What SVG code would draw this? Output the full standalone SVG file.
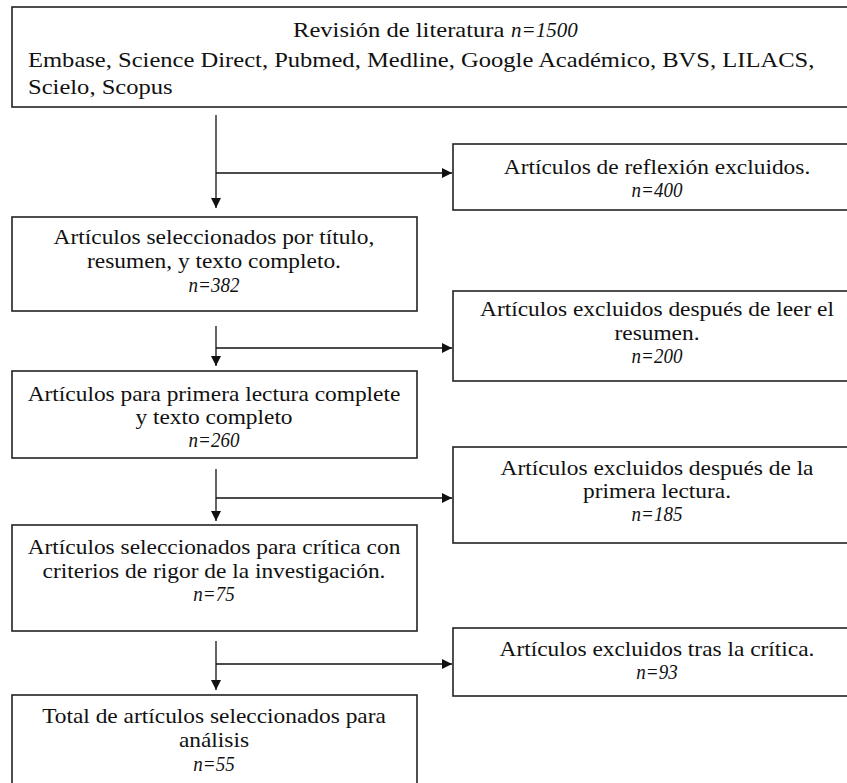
<svg xmlns="http://www.w3.org/2000/svg" width="847" height="783" viewBox="0 0 847 783">
<style>
.box{fill:#fff;stroke:#222;stroke-width:1.6}
.t{font-family:"Liberation Serif","Times New Roman",serif;font-size:20px;fill:#111;text-anchor:middle}
.tl{font-family:"Liberation Serif","Times New Roman",serif;font-size:21px;fill:#111}
.i{font-style:italic}
.c{stroke:#111;stroke-width:1.3;fill:none;marker-end:url(#ah)}
</style>
<defs>
<marker id="ah" viewBox="0 0 10 10" refX="10" refY="5" markerUnits="userSpaceOnUse" markerWidth="11" markerHeight="10" orient="auto">
<path d="M0,0 L10,5 L0,10 z" fill="#111"/>
</marker>
</defs>
<rect width="847" height="783" fill="#fff"/>

<g id="n0">
<rect class="box" x="12" y="7" width="852" height="100"/>
<text class="tl" transform="translate(293,0) scale(1.17,1)" x="0" y="37">Revisión de literatura</text>
<text class="tl i" transform="translate(511,0) scale(1.0,1)" x="0" y="37">n=1500</text>
<text class="tl" transform="translate(28,0) scale(1.17,1)" x="0" y="67">Embase, Science Direct, Pubmed, Medline, Google Académico, BVS, LILACS,</text>
<text class="tl" transform="translate(28,0) scale(1.17,1)" x="0" y="94">Scielo, Scopus</text>
</g>

<g id="connectors">
<path class="c" d="M216,115 V208"/>
<path class="c" d="M216,173 H452"/>
<path class="c" d="M216,326 V366"/>
<path class="c" d="M216,348 H452"/>
<path class="c" d="M216,469 V521"/>
<path class="c" d="M216,498 H452"/>
<path class="c" d="M216,641 V690"/>
<path class="c" d="M216,664 H452"/>
</g>

<g id="r1">
<rect class="box" x="453" y="144" width="410" height="66"/>
<text class="t" transform="translate(657,0) scale(1.17,1)" x="0" y="174">Artículos de reflexión excluidos.</text>
<text class="t i" transform="translate(657,0) scale(0.95,1)" x="0" y="197">n=400</text>
</g>

<g id="n1">
<rect class="box" x="12" y="217" width="405" height="94"/>
<text class="t" transform="translate(214,0) scale(1.17,1)" x="0" y="244">Artículos seleccionados por título,</text>
<text class="t" transform="translate(214,0) scale(1.17,1)" x="0" y="268">resumen, y texto completo.</text>
<text class="t i" transform="translate(214,0) scale(0.95,1)" x="0" y="292">n=382</text>
</g>

<g id="r2">
<rect class="box" x="453" y="291" width="410" height="90"/>
<text class="t" transform="translate(657,0) scale(1.17,1)" x="0" y="316">Artículos excluidos después de leer el</text>
<text class="t" transform="translate(657,0) scale(1.17,1)" x="0" y="340">resumen.</text>
<text class="t i" transform="translate(657,0) scale(0.95,1)" x="0" y="363">n=200</text>
</g>

<g id="n2">
<rect class="box" x="12" y="371" width="405" height="87"/>
<text class="t" transform="translate(214,0) scale(1.17,1)" x="0" y="401">Artículos para primera lectura complete</text>
<text class="t" transform="translate(214,0) scale(1.17,1)" x="0" y="424">y texto completo</text>
<text class="t i" transform="translate(214,0) scale(0.95,1)" x="0" y="447">n=260</text>
</g>

<g id="r3">
<rect class="box" x="453" y="447" width="410" height="96"/>
<text class="t" transform="translate(657,0) scale(1.17,1)" x="0" y="475">Artículos excluidos después de la</text>
<text class="t" transform="translate(657,0) scale(1.17,1)" x="0" y="498">primera lectura.</text>
<text class="t i" transform="translate(657,0) scale(0.95,1)" x="0" y="521">n=185</text>
</g>

<g id="n3">
<rect class="box" x="12" y="525" width="405" height="106"/>
<text class="t" transform="translate(214,0) scale(1.17,1)" x="0" y="554">Artículos seleccionados para crítica con</text>
<text class="t" transform="translate(214,0) scale(1.17,1)" x="0" y="578">criterios de rigor de la investigación.</text>
<text class="t i" transform="translate(214,0) scale(0.95,1)" x="0" y="601">n=75</text>
</g>

<g id="r4">
<rect class="box" x="453" y="628" width="410" height="68"/>
<text class="t" transform="translate(657,0) scale(1.17,1)" x="0" y="656">Artículos excluidos tras la crítica.</text>
<text class="t i" transform="translate(657,0) scale(0.95,1)" x="0" y="679">n=93</text>
</g>

<g id="n4">
<rect class="box" x="12" y="695" width="405" height="100"/>
<text class="t" transform="translate(214,0) scale(1.17,1)" x="0" y="723">Total de artículos seleccionados para</text>
<text class="t" transform="translate(214,0) scale(1.17,1)" x="0" y="747">análisis</text>
<text class="t i" transform="translate(214,0) scale(0.95,1)" x="0" y="771">n=55</text>
</g>
</svg>
